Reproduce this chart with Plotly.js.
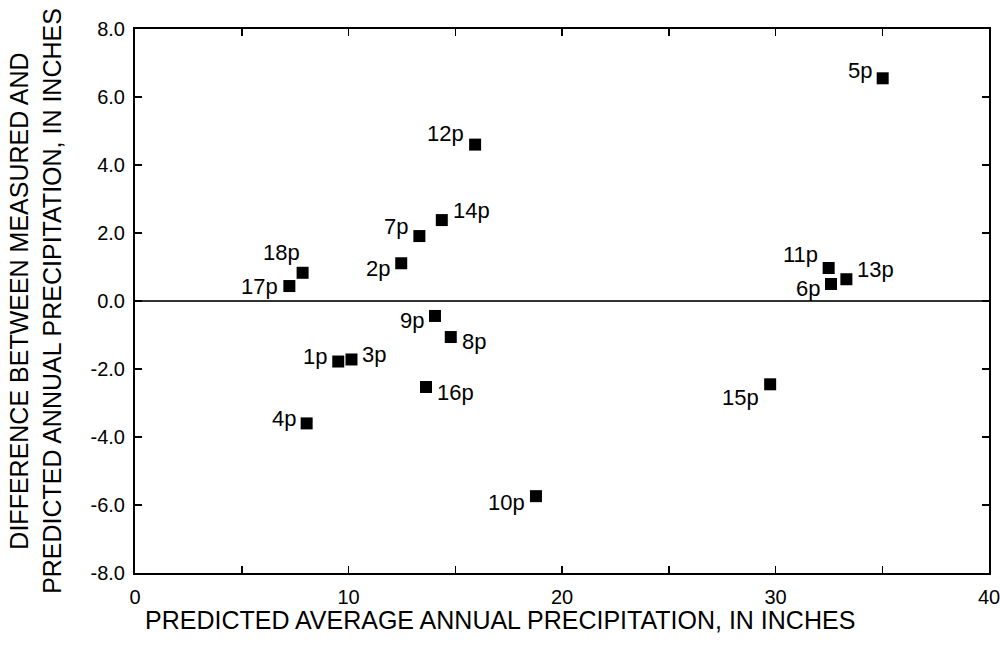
<!DOCTYPE html>
<html>
<head>
<meta charset="utf-8">
<script src="https://cdn.plot.ly/plotly-3.0.1.min.js"></script>
<style>html,body{margin:0;padding:0;background:#fff;}#chart{width:1000px;height:651px;}</style>
</head>
<body>
<div id="chart"></div>
<script>
const siteLabels = ["1p","2p","3p","4p","5p","6p","7p","8p","9p","10p","11p","12p","13p","14p","15p","16p","17p","18p"];
const predicted = [9.52,12.47,10.14,8.04,35.02,32.60,13.32,14.79,14.05,18.78,32.49,15.93,33.32,14.37,29.75,13.63,7.23,7.85];
const difference = [-1.78,1.11,-1.72,-3.60,6.55,0.50,1.91,-1.06,-0.44,-5.74,0.97,4.60,0.64,2.38,-2.45,-2.53,0.44,0.83];
const xTickVals = [0,5,10,15,20,25,30,35,40];
const xTickText = ["0","","10","","20","","30","","40"];
const yTickVals = [-8,-6,-4,-2,0,2,4,6,8];
const yTickText = ["-8.0","-6.0","-4.0","-2.0","0.0","2.0","4.0","6.0","8.0"];
const xTitle = "PREDICTED AVERAGE ANNUAL PRECIPITATION, IN INCHES";
const yTitle = "DIFFERENCE BETWEEN MEASURED AND<br>PREDICTED ANNUAL PRECIPITATION, IN INCHES";

// label placement style: side of the marker, and vertical pixel offset (positive = down)
const labelStyle = {
  "1p":["left",-5],"2p":["left",5],"3p":["right",-5],"4p":["left",-5],
  "5p":["left",-8],"6p":["left",4],"7p":["left",-10],"8p":["right",4],
  "9p":["left",5],"10p":["left",6],"11p":["left",-14],"12p":["left",-11],
  "13p":["right",-10],"14p":["right",-10],"15p":["left",13],"16p":["right",5],
  "17p":["left",0],"18p":["left",-20]
};

const FONT = "'Liberation Sans', Arial, sans-serif";

const trace = {
  type: "scatter",
  mode: "markers",
  x: predicted,
  y: difference,
  text: siteLabels,
  marker: {symbol: "square", size: 12, color: "#000"},
  hoverinfo: "x+y+text",
  cliponaxis: false
};

const annotations = siteLabels.map((s, i) => {
  const st = labelStyle[s];
  const left = st[0] === "left";
  const shiftX = s === "18p" ? 2 : 10;
  return {
    x: predicted[i], y: difference[i], xref: "x", yref: "y",
    text: s, showarrow: false,
    xanchor: left ? "right" : "left", yanchor: "middle",
    xshift: left ? -shiftX : shiftX, yshift: -st[1],
    font: {family: FONT, size: 22, color: "#000"},
    borderpad: 0
  };
});

// x-axis title, centred on the page as in the original
annotations.push({
  xref: "paper", yref: "paper", x: 0.4274, y: 0,
  xanchor: "center", yanchor: "middle", yshift: -47,
  text: xTitle, showarrow: false,
  font: {family: FONT, size: 25, color: "#000"}
});

const layout = {
  width: 1000, height: 651,
  margin: {l: 135, r: 11, t: 29, b: 78, pad: 0},
  paper_bgcolor: "#fff", plot_bgcolor: "#fff",
  showlegend: false,
  font: {family: FONT, color: "#000"},
  annotations: annotations,
  xaxis: {
    range: [0, 40], tickvals: xTickVals, ticktext: xTickText,
    ticks: "inside", ticklen: 7, tickwidth: 1.5, tickcolor: "#000",
    showline: true, linecolor: "#000", linewidth: 2, mirror: "ticks",
    showgrid: false, zeroline: false,
    tickfont: {family: FONT, size: 20, color: "#000"},
    ticklabelstandoff: 5, ticklabeloverflow: "allow"
  },
  yaxis: {
    range: [-8, 8], tickvals: yTickVals, ticktext: yTickText,
    ticks: "inside", ticklen: 7, tickwidth: 1.5, tickcolor: "#000",
    showline: true, linecolor: "#000", linewidth: 2, mirror: "ticks",
    showgrid: false, zeroline: true, zerolinecolor: "#333", zerolinewidth: 1.5,
    tickfont: {family: FONT, size: 20, color: "#000"},
    ticklabelstandoff: 4, ticklabeloverflow: "allow",
    title: {text: yTitle, font: {family: FONT, size: 25, color: "#000"}, standoff: 22}
  }
};

Plotly.newPlot("chart", [trace], layout, {displayModeBar: false, staticPlot: true});
</script>
</body>
</html>
